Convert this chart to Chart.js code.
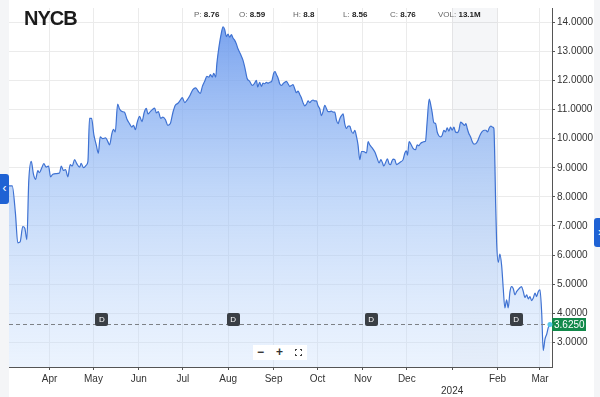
<!DOCTYPE html>
<html>
<head>
<meta charset="utf-8">
<script src="https://cdn.jsdelivr.net/npm/chart.js@4.4.1/dist/chart.umd.min.js"></script>
<style>
  html, body { margin: 0; padding: 0; }
  body { width: 600px; height: 397px; background: #f4f5f7; position: relative; overflow: hidden; font-family: 'Liberation Sans', Arial, sans-serif; }
  #panel { position: absolute; left: 9px; top: 0; width: 585px; height: 397px; background: #fff; }
  #wrap { position: absolute; left: 0; top: 0; width: 600px; height: 397px; }
  .title { position: absolute; left: 24px; top: 8px; font-size: 20px; line-height: 20px; font-weight: bold; color: #1b1b1b; letter-spacing: -1px; }
  .info { position: absolute; top: 10px; font-size: 8px; line-height: 9px; color: #666; white-space: nowrap; }
  .info b { color: #222; }
  .tab { position: absolute; background: #1f62d4; color: #fff; font-size: 12px; line-height: 28px; text-align: center; overflow: hidden; }
  #zoomBox { position: absolute; left: 253px; top: 345px; width: 54px; height: 15px; background: #fff; }
  .zbtn { position: absolute; top: 0; font-size: 12px; line-height: 15px; font-weight: bold; color: #333; }
  #fs { position: absolute; left: 42px; top: 4px; width: 5px; height: 5px; border: 1.5px solid #444; }
  #fs .h { position: absolute; left: 1px; top: -2px; width: 3px; height: 9px; background: #fff; }
  #fs .v { position: absolute; left: -2px; top: 1px; width: 9px; height: 3px; background: #fff; }
</style>
</head>
<body>
<div id="panel"></div>
<div id="wrap"><canvas id="nycbChart" width="600" height="397"></canvas></div>
<div class="title">NYCB</div>
<div class="info" style="left:194px">P: <b>8.76</b></div>
<div class="info" style="left:239px">O: <b>8.59</b></div>
<div class="info" style="left:293px">H: <b>8.8</b></div>
<div class="info" style="left:343px">L: <b>8.56</b></div>
<div class="info" style="left:390px">C: <b>8.76</b></div>
<div class="info" style="left:438px">VOL: <b>13.1M</b></div>
<div class="tab" style="left:0;top:174px;width:9px;height:30px;border-radius:0 3px 3px 0;">&lsaquo;</div>
<div class="tab" style="left:594px;top:218px;width:6px;height:29px;border-radius:3px 0 0 3px;text-indent:4px;">&rsaquo;</div>
<div id="zoomBox">
  <span class="zbtn" style="left:4px">&minus;</span>
  <span class="zbtn" style="left:23px">+</span>
  <div id="fs"><div class="h"></div><div class="v"></div></div>
</div>
<script>
// NYCB precio diario, marzo 2023 - marzo 2024 (día 0 = 2023-03-01)
const dayIndex = [
  3.3, 5.5, 7.7, 9.3, 10.9, 12.7, 14.1, 15.5, 16.8, 18.5, 20.0, 21.4, 23.0, 24.1, 25.7, 27.1, 28.7, 30.3,
  31.7, 33.2, 35.6, 37.8, 39.0, 40.5, 41.9, 43.5, 45.1, 46.5, 48.1, 49.6, 51.5, 52.6, 54.2, 56.1, 57.2,
  58.3, 59.7, 61.3, 62.9, 64.3, 65.6, 67.4, 69.3, 70.8, 72.0, 73.6, 74.7, 75.9, 77.5, 78.8, 80.7, 82.2,
  83.8, 85.7, 87.2, 88.4, 89.6, 90.9, 92.5, 94.1, 95.7, 97.1, 98.2, 99.8, 101.2, 102.8, 103.9, 105.3,
  106.9, 108.4, 110.1, 111.8, 113.5, 115.3, 116.9, 118.7, 120.0, 121.7, 123.3, 124.8, 126.7, 128.9,
  130.8, 132.4, 134.0, 135.4, 136.9, 138.5, 139.9, 140.8, 142.2, 143.1, 144.5, 145.3, 146.7, 148.4,
  149.5, 150.6, 151.8, 152.9, 154.0, 155.2, 156.3, 157.4, 158.6, 159.7, 161.3, 163.1, 164.5, 165.9,
  167.7, 169.6, 171.1, 172.3, 173.2, 174.5, 175.7, 176.8, 178.0, 179.1, 180.2, 181.4, 182.7, 184.1,
  185.0, 186.0, 187.1, 188.2, 189.4, 190.5, 191.6, 192.8, 193.9, 195.1, 196.2, 197.3, 198.5, 199.6,
  200.7, 201.9, 203.0, 204.1, 205.3, 206.5, 207.6, 208.7, 209.9, 211.0, 212.1, 213.3, 214.4, 215.6,
  216.7, 217.8, 219.0, 220.1, 221.2, 222.4, 223.5, 224.7, 225.8, 227.0, 228.1, 229.2, 230.4, 231.5,
  232.6, 233.8, 234.9, 236.1, 237.2, 238.3, 239.5, 240.7, 241.7, 242.9, 244.1, 245.2, 246.3, 247.5,
  248.6, 249.7, 251.6, 253.2, 254.7, 256.1, 257.3, 258.4, 259.3, 260.7, 261.8, 262.9, 263.9, 264.8,
  265.7, 266.8, 268.0, 269.1, 270.7, 272.5, 273.7, 274.8, 275.5, 276.6, 278.0, 279.3, 281.0, 282.1,
  283.2, 284.4, 285.8, 286.9, 287.8, 288.9, 290.3, 291.5, 292.3, 293.5, 294.7, 295.8, 296.9, 298.1,
  299.2, 300.3, 301.5, 302.6, 303.8, 304.9, 306.0, 307.2, 308.3, 309.4, 310.6, 311.8, 313.1, 314.5,
  315.4, 316.3, 317.4, 318.6, 319.7, 320.9, 322.2, 323.4, 324.5, 325.6, 326.8, 327.9, 329.1, 330.2,
  331.3, 332.5, 333.6, 334.5, 335.2, 335.7, 336.4, 337.5, 338.6, 339.8, 340.9, 342.0, 343.2, 344.3,
  345.5, 346.6, 347.7, 348.9, 350.0, 351.8, 353.4, 354.6, 355.7, 356.9, 358.0, 359.1, 360.3, 361.4,
  362.6, 363.7, 364.8, 366.0, 367.2, 368.2, 369.4, 370.6, 371.7, 372.8
];
const closePrice = [
  8.38, 8.38, 7.43, 6.42, 6.45, 6.98, 6.92, 6.53, 8.55, 9.22, 8.78, 8.6, 8.9, 8.83, 9.0, 9.14, 9.02, 9.06,
  8.69, 8.78, 8.8, 8.82, 9.06, 8.91, 8.94, 8.69, 9.11, 9.06, 9.28, 9.14, 9.02, 9.15, 9.0, 9.09, 9.22,
  10.7, 10.7, 10.12, 9.79, 9.5, 10.06, 10.0, 10.03, 9.9, 9.79, 10.18, 10.32, 10.23, 11.19, 11.02, 10.93, 10.91,
  10.68, 10.51, 10.4, 10.46, 10.31, 10.57, 10.77, 10.59, 10.91, 11.04, 10.85, 10.93, 11.0, 11.05, 10.89, 10.93,
  10.7, 10.74, 10.66, 10.46, 10.52, 10.91, 11.15, 11.22, 11.3, 11.41, 11.24, 11.32, 11.47, 11.69,
  11.75, 11.64, 11.56, 11.80, 11.97, 12.14, 12.12, 12.20, 12.12, 12.25, 12.12, 12.59, 13.15, 13.65,
  13.85, 13.76, 13.51, 13.60, 13.49, 13.58, 13.46, 13.39, 13.26, 13.09, 12.92, 12.70, 12.42, 12.08,
  11.97, 11.83, 11.91, 12.01, 11.78, 11.94, 11.80, 11.91, 11.89, 11.94, 11.91, 11.94, 11.97, 12.25,
  12.31, 12.20, 12.08, 11.89, 11.83, 11.89, 11.94, 11.97, 11.89, 11.80, 11.83, 11.86, 11.71, 11.58,
  11.64, 11.52, 11.41, 11.24, 11.13, 11.19, 11.30, 11.24, 11.30, 11.33, 11.30, 11.30, 11.13, 11.02,
  10.79, 10.93, 11.15, 11.04, 10.93, 10.93, 10.95, 10.91, 10.91, 10.63, 10.52, 10.68, 10.79, 10.85,
  10.52, 10.35, 10.43, 10.43, 10.26, 10.18, 10.29, 10.06, 9.79, 9.28, 9.56, 9.56, 9.54, 9.51,
  9.90, 9.79, 9.67, 9.54, 9.34, 9.17, 9.28, 9.17, 9.06, 9.20, 9.31, 9.14, 9.11, 9.22,
  9.30, 9.28, 9.11, 9.14, 9.20, 9.28, 9.51, 9.58, 9.43, 9.90, 9.79, 9.67, 9.62, 9.79,
  9.76, 9.84, 9.88, 9.90, 9.92, 10.57, 11.36, 11.13, 10.91, 10.55, 10.52, 10.23, 10.10, 10.06,
  10.12, 10.29, 10.23, 10.37, 10.26, 10.40, 10.29, 10.40, 10.23, 10.21, 10.29, 10.57, 10.52, 10.46,
  10.52, 10.35, 10.18, 10.06, 9.90, 9.81, 9.83, 9.92, 10.06, 10.18, 10.26, 10.29, 10.29, 10.23,
  10.37, 10.43, 10.40, 10.35, 9.11, 7.77, 6.42, 5.75, 6.03, 5.64, 4.85, 4.18, 4.46, 4.18,
  4.74, 4.91, 4.85, 4.63, 4.74, 4.85, 4.91, 4.74, 4.54, 4.63, 4.49, 4.57, 4.43, 4.52,
  4.69, 4.57, 4.74, 4.80, 3.96, 2.72, 3.11, 3.28, 3.51, 3.625
];

// Ticks del eje X (inicio de cada mes) y del eje Y
const monthDays = [31, 61, 92, 122, 153, 184, 214, 245, 275, 306, 337, 366];
const monthLabels = ['Apr', 'May', 'Jun', 'Jul', 'Aug', 'Sep', 'Oct', 'Nov', 'Dec', ['', '2024'], 'Feb', 'Mar'];
const priceTicks = [3, 4, 5, 6, 7, 8, 9, 10, 11, 12, 13, 14];

// Fechas de dividendos (marcadores "D") y último precio
const dividendDays = [66.7, 156.4, 250.7, 349.7];
const lastPrice = 3.625;
const shadeRange = [306, 337];

Chart.defaults.font.family = "'Liberation Sans', Arial, sans-serif";

const overlays = {
  id: 'overlays',
  beforeDatasetsDraw(chart) {
    const { ctx, chartArea, scales } = chart;
    const x0 = scales.x.getPixelForValue(shadeRange[0]);
    const x1 = scales.x.getPixelForValue(shadeRange[1]);
    ctx.save();
    ctx.fillStyle = 'rgba(140,155,180,0.09)';
    ctx.fillRect(x0, chartArea.top, x1 - x0, chartArea.bottom - chartArea.top);
    ctx.restore();
  },
  afterDatasetsDraw(chart) {
    const { ctx, chartArea, scales } = chart;
    const y = Math.round(scales.y.getPixelForValue(lastPrice)) + 0.5;
    ctx.save();
    // línea discontinua del último precio
    ctx.strokeStyle = '#7d8186';
    ctx.lineWidth = 1;
    ctx.setLineDash([4, 3]);
    ctx.beginPath();
    ctx.moveTo(chartArea.left, y);
    ctx.lineTo(chartArea.right, y);
    ctx.stroke();
    ctx.setLineDash([]);

    // marcadores de dividendos
    const dy = chartArea.bottom - 48;
    dividendDays.forEach(d => {
      const x = scales.x.getPixelForValue(d);
      ctx.fillStyle = '#3a3f45';
      ctx.beginPath();
      ctx.roundRect(Math.round(x - 6.5), Math.round(dy - 6.5), 13, 13, 2);
      ctx.fill();
      ctx.fillStyle = '#fff';
      ctx.font = "8px 'Liberation Sans', Arial, sans-serif";
      ctx.textAlign = 'center';
      ctx.textBaseline = 'middle';
      ctx.fillText('D', x, dy + 0.5);
    });

    // etiqueta verde del último precio
    ctx.fillStyle = '#12894a';
    ctx.fillRect(chartArea.right, y - 6.5, 34, 13);
    ctx.fillStyle = '#fff';
    ctx.font = "10px 'Liberation Sans', Arial, sans-serif";
    ctx.textAlign = 'left';
    ctx.textBaseline = 'middle';
    ctx.fillText(lastPrice.toFixed(4), chartArea.right + 2, y + 0.5);

    // punto final
    const lx = scales.x.getPixelForValue(dayIndex[dayIndex.length - 1]);
    ctx.fillStyle = '#55c6e8';
    ctx.beginPath();
    ctx.arc(lx, y, 2.5, 0, Math.PI * 2);
    ctx.fill();
    ctx.restore();
  }
};

const points = dayIndex.map((d, i) => ({ x: d, y: closePrice[i] }));

new Chart(document.getElementById('nycbChart'), {
  type: 'line',
  data: {
    datasets: [{
      data: points,
      borderColor: '#3f72d2',
      borderWidth: 1.2,
      pointRadius: 0,
      cubicInterpolationMode: 'monotone',
      fill: 'start',
      backgroundColor: (c) => {
        const area = c.chart.chartArea;
        if (!area) return 'rgba(150,188,245,0.6)';
        const g = c.chart.ctx.createLinearGradient(0, area.top, 0, area.bottom);
        g.addColorStop(0, 'rgba(98,146,235,0.9)');
        g.addColorStop(0.5, 'rgba(150,188,245,0.6)');
        g.addColorStop(1, 'rgba(200,222,252,0.35)');
        return g;
      }
    }]
  },
  options: {
    responsive: false,
    animation: false,
    devicePixelRatio: 1,
    layout: { padding: { left: 9, right: 0, top: 0, bottom: 0 } },
    plugins: { legend: { display: false }, tooltip: { enabled: false } },
    scales: {
      x: {
        type: 'linear',
        min: 3.3,
        max: 374.2,
        afterBuildTicks: (s) => { s.ticks = monthDays.map(v => ({ value: v })); },
        afterFit: (s) => { s.height = 30; },
        ticks: {
          autoSkip: false,
          maxRotation: 0,
          padding: 3,
          color: '#333',
          font: { size: 10 },
          callback: (v) => monthLabels[monthDays.indexOf(v)]
        },
        grid: { color: '#ebebeb', tickColor: '#555', tickLength: 3 },
        border: { color: '#555' }
      },
      y: {
        position: 'right',
        min: 2.149,
        max: 14.494,
        afterBuildTicks: (s) => { s.ticks = priceTicks.map(v => ({ value: v })); },
        afterFit: (s) => { s.width = 48; },
        ticks: {
          padding: 2,
          color: '#333',
          font: { size: 10 },
          callback: (v) => v.toFixed(4)
        },
        grid: { color: '#ebebeb', tickColor: '#555', tickLength: 3 },
        border: { color: '#555' }
      }
    }
  },
  plugins: [overlays]
});
</script>
</body>
</html>
